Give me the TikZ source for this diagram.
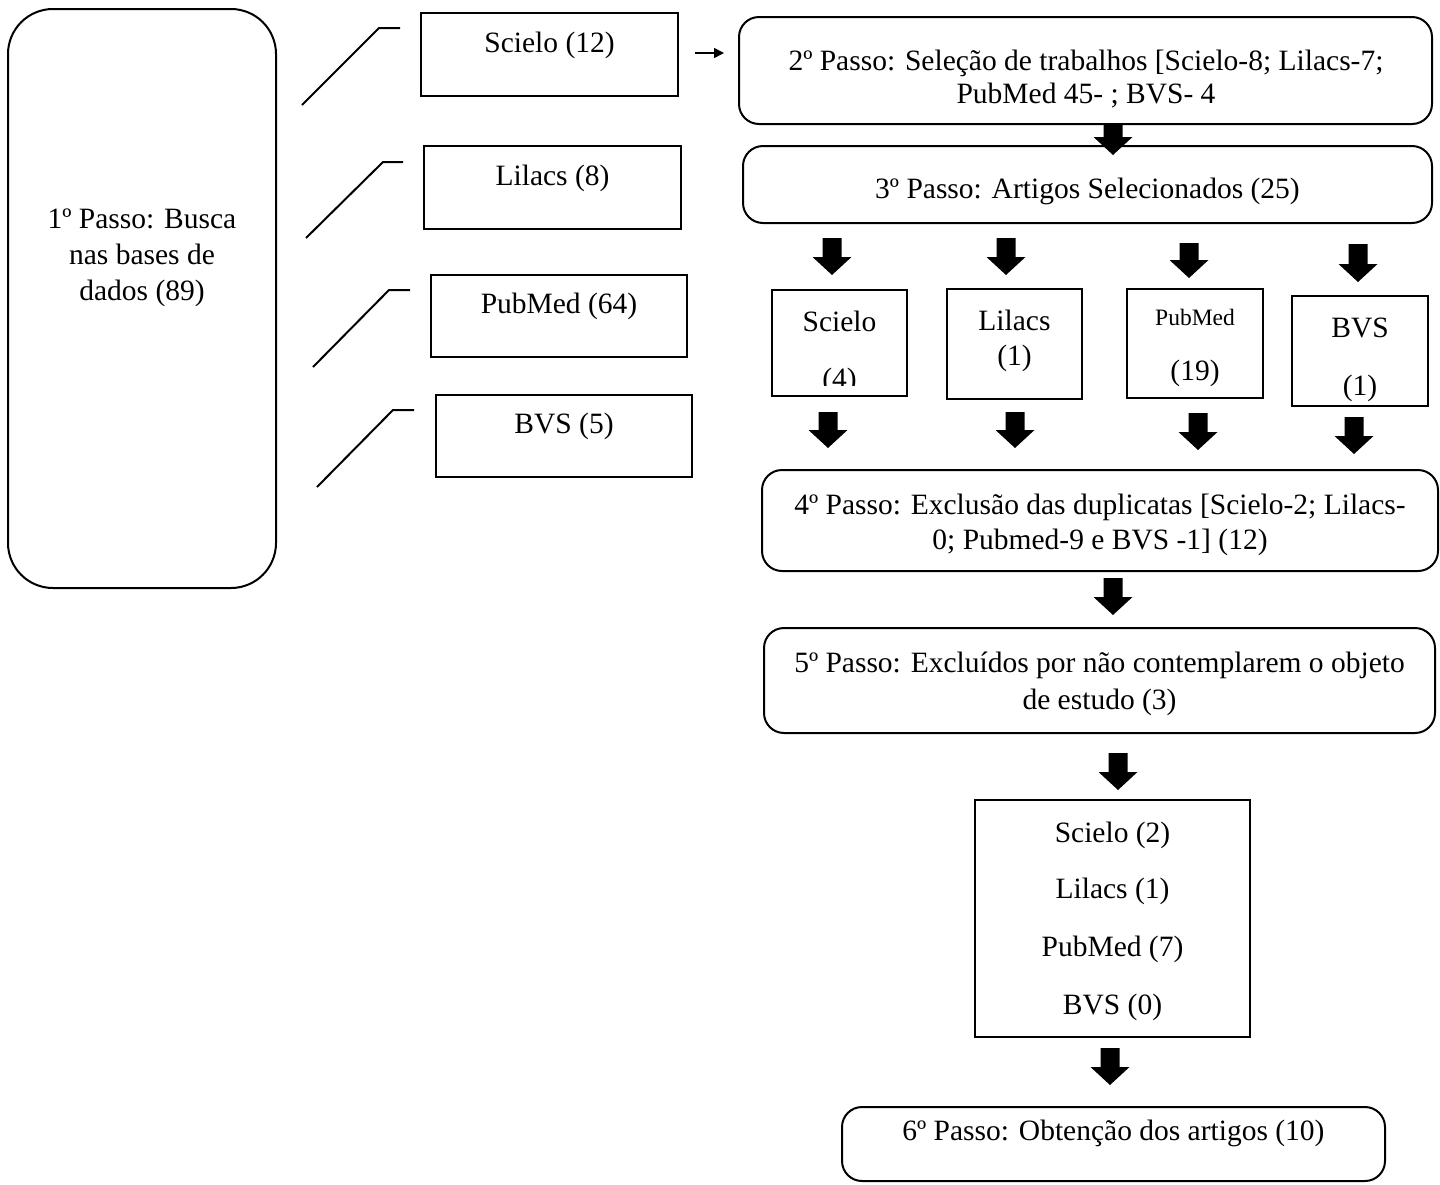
\documentclass[tikz,border=0pt]{standalone}
\usepackage{fontspec}
\setmainfont{Liberation Serif}
\usetikzlibrary{arrows.meta,fit}
\newcommand{\barr}[3]{% x, ytop, ytip
  \fill (#1-9.5,#2) -- (#1+9.5,#2) -- (#1+9.5,#3-18) -- (#1+19.5,#3-18) -- (#1,#3) -- (#1-19.5,#3-18) -- (#1-9.5,#3-18) -- cycle;}
\begin{document}
\begin{tikzpicture}[x=1pt,y=-1pt,
  box/.style={draw, line width=2pt, inner sep=0pt},
  rbox/.style={draw, line width=2pt, inner sep=0pt, rounded corners=20pt},
  txt/.style={font=\fontsize{29.5}{33}\selectfont, anchor=base, inner sep=0pt},
  stxt/.style={font=\fontsize{23.5}{28}\selectfont, anchor=base, inner sep=0pt},
  diag/.style={line width=2pt}
]
\useasboundingbox (0,0) rectangle (1440,1184);

% 1st step
\node[draw, line width=2pt, inner sep=0pt, rounded corners=45pt, fit={(8,9) (276,588)}] (b1) {};
\node[font=\fontsize{29.5}{36}\selectfont, align=center, inner sep=0pt] (b1t) at (142,258) {1º Passo: Busca\\nas bases de\\dados (89)};

% source boxes
\node[box, fit={(421,13) (678,96)}] (s1) {};
\node[txt] (s1t) at (549.5,52) {Scielo (12)};
\node[box, fit={(424,146) (681,229)}] (s2) {};
\node[txt] (s2t) at (552.5,185) {Lilacs (8)};
\node[box, fit={(431,275) (687,357)}] (s3) {};
\node[txt] (s3t) at (559,313) {PubMed (64)};
\node[box, fit={(436,395) (692,477)}] (s4) {};
\node[txt] (s4t) at (564,433) {BVS (5)};

% slanted lines
\draw[diag] (302,105) -- (379,28) -- (400,28);
\draw[diag] (306,238) -- (383,162) -- (403,162);
\draw[diag] (313,367) -- (389,290) -- (410,290);
\draw[diag] (317,487) -- (393,410) -- (414,410);

% step 2
\node[rbox, fit={(739,17) (1432,124)}] (p2) {};
\node[txt] (p2a) at (1086,70) {2º Passo: Seleção de trabalhos [Scielo-8; Lilacs-7;};
\node[txt] (p2b) at (1086,103) {PubMed 45- ; BVS- 4};
\coordinate (a0s) at (695,53);
\coordinate (a0e) at (724,53);
\draw[line width=1.5pt, -{Triangle[length=10pt,width=10pt]}] (a0s) -- (a0e);

% step 3
\node[rbox, fit={(743,146) (1432,223)}] (p3) {};
\node[txt] (p3t) at (1087.5,198) {3º Passo: Artigos Selecionados (25)};
\barr{1113}{124}{155}

% row of databases
\barr{832}{238}{275}
\barr{1006}{238}{275}
\barr{1189}{243}{278}
\barr{1358}{244}{282}

\node[box, fit={(772,290) (907,396)}] (c1) {};
\node[txt] (c1a) at (839.5,331) {Scielo};
\begin{scope}
  \clip (772,290) rectangle (907,385);
  \node[txt] (c1b) at (839.5,388) {(4)};
\end{scope}
\node[box, fit={(947,289) (1082,399)}] (c2) {};
\node[txt] (c2a) at (1014.5,330) {Lilacs};
\node[txt] (c2b) at (1014.5,365) {(1)};
\node[box, fit={(1127,289) (1263,398)}] (c3) {};
\node[stxt] (c3a) at (1195,325) {PubMed};
\node[txt] (c3b) at (1195,380) {(19)};
\node[box, fit={(1292,296) (1428,406)}] (c4) {};
\node[txt] (c4a) at (1360,337) {BVS};
\node[txt] (c4b) at (1360,395) {(1)};

\barr{828}{412}{448}
\barr{1015}{412}{448}
\barr{1198}{413}{450}
\barr{1354}{417}{454}

% step 4
\node[rbox, fit={(762,470) (1438,571)}] (p4) {};
\node[txt] (p4a) at (1100,514) {4º Passo: Exclusão das duplicatas [Scielo-2; Lilacs-};
\node[txt] (p4b) at (1100,549) {0; Pubmed-9 e BVS -1] (12)};
\barr{1113}{578}{615}

% step 5
\node[rbox, fit={(764,628) (1435,733)}] (p5) {};
\node[txt] (p5a) at (1099.5,672) {5º Passo: Excluídos por não contemplarem o objeto};
\node[txt] (p5b) at (1099.5,709) {de estudo (3)};
\barr{1118}{753}{790}

% list box
\node[box, fit={(975,800) (1250,1037)}] (lst) {};
\node[txt] (l1) at (1112.5,842) {Scielo (2)};
\node[txt] (l2) at (1112.5,898) {Lilacs (1)};
\node[txt] (l3) at (1112.5,956) {PubMed (7)};
\node[txt] (l4) at (1112.5,1014) {BVS (0)};
\barr{1110}{1048}{1085}

% step 6
\node[rbox, fit={(842,1107) (1385,1181)}] (p6) {};
\node[txt] (p6t) at (1113.5,1140) {6º Passo: Obtenção dos artigos (10)};
\end{tikzpicture}
\end{document}
